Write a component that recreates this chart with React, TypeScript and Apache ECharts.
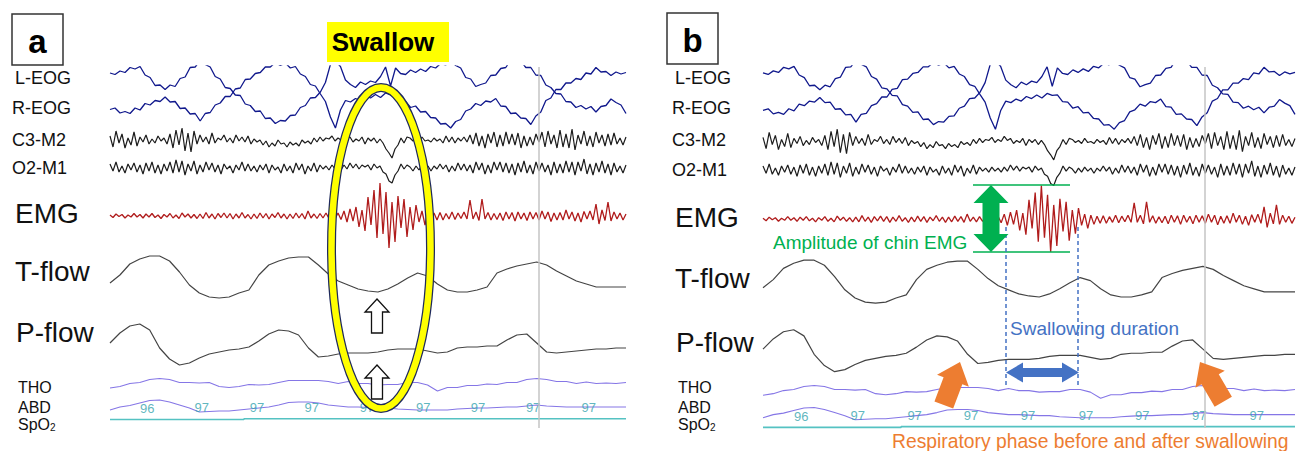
import React, { useEffect, useRef } from "react";
import * as echarts from "echarts";

// ---------- DATA (arbitrary amplitude units, positive = up) ----------
const CHANNEL_LABELS = ["L-EOG", "R-EOG", "C3-M2", "O2-M1", "EMG", "T-flow", "P-flow", "THO", "ABD", "SpO2"];

const L_EOG = [
  22, 20.5, 24, 22.5, 27.5, 26, 28.5, 20, 17.5, 9.5,
  10, 5.5, 10, 8.5, 16.5, 18, 27.5, 28, 34.5, 30.5,
  28, 18.5, 16, 7.5, 6.5, 0, -0.5, -9, -10.5, -16.5,
  -16, -23.5, -23, -28.5, -25.5, -26, -20.5, -20, -12.5, -10.5,
  -3, -2.5, 3, 12.5, 30.5, 34, 28.5, 15, 10.5, 7.5,
  13, 10.5, 14, 12.5, 18.5, 28, 9, 27, 21.5, 20.5,
  25, 22.5, 26, 23.5, 28.5, 27, 31.5, 30, 34.5, 29.5,
  27, 17.5, 16, 8.5, 10.5, 12, 19.5, 20, 26.5, 27.5,
  35, 33.5, 34, 27.5, 27.5, 20, 19.5, 10, 7.5, 1.5,
  1, -6.5, -7, -12.5, -10.5, -14, -11.5, -17, -11.5, -10.5,
  -4, -7.5, -10, -18.5,
];

const R_EOG = [
  -14.5, -13, -18, -16.5, -18.5, -13, -15, -8.5, -10, -5.5,
  -6.5, -2, -7, -6.5, -13.5, -13, -19, -18.5, -26, -18.5,
  -17.5, -10, -8, -1.5, -1.5, 6, 7, 15.5, 16, 21.5,
  22.5, 28, 28, 32.5, 29.5, 32, 27, 28.5, 21, 18.5,
  10.5, 9, 1, -6.5, -22, -33, -15, -5.5, -7, -3.5,
  -5.5, -1, -3, 0.5, -2.5, 2, 0, 0.5, -6, -6.5,
  -12.5, -11, -17, -16.5, -22.5, -23, -29, -28.5, -33, -26.5,
  -24.5, -16, -14, -8.5, -10.5, -6, -7, -3.5, -11, -11.5,
  -18.5, -18, -23, -23.5, -29.5, -21, -17, -5.5, -3, 5.5,
  5.5, 12, 12, 16.5, 15.5, 22, 21, 27.5, 23, 23.5,
  19.5, 23, 21, 22.5,
];

const C3_M2 = [
  4, -7, 9, -3, 6, -8, 2, -5, 8, -6,
  3, -2, 5, -4, 1, -3, 4, -1, 2, -4,
  6, -8, 10, -5, 12, -11, 7, -12, 9, -4,
  5, -2, 3, -4, 7, -3, 2, 0, 5, -2,
  2, -3, 5, -1, 3, -2, 4, -4, 1, -2,
  0, -5, -1, -7, -3, -6, 0, -4, -3, -7,
  -2, -5, -3, -6, 0, -3, -1, -4, 2, -2,
  3, -1, 2, 1, 4, -1, 2, 0, 5, 1,
  3, -2, 1, -1, 3, -4, 2, -1, 2, -3,
  1, -3, -9, -13, -18, -9, -5, 2, -3, 3,
  2, -1, 1, -2, 3, -1, 0, -2, 2, -1,
  1, -3, 4, -2, 3, -3, 2, -1, 3, -2,
  5, -4, 7, -6, 4, -8, 6, -3, 8, -7,
  5, -6, 8, -4, 6, -5, 7, -8, 4, -6,
  3, -5, 6, -2, 8, -7, 9, -4, 5, -8,
  10, -7, 6, -8, 11, -10, 5, -4, 9, -6,
  4, -7, 8, -3, 5, -6, 6, -5, 7, -4,
  2, -5, 3,
];

const O2_M1 = [
  4, -3, 6, -4, 2, -5, 4, -2, 5, -4,
  3, -6, 5, -3, 6, -5, 3, -6, 4, -3,
  6, -5, 8, -4, 7, -7, 4, -3, 7, -6,
  3, -4, 6, -2, 5, -4, 3, -6, 4, -1,
  2, -5, 3, -2, 6, -3, 4, -3, 2, -4,
  3, -2, 4, -5, 3, -2, 1, -5, 4, -3,
  2, -5, 5, -2, 4, -6, 2, -3, 5, -4,
  3, -1, 2, -2, 3, -1, 2, -2, 3, -1,
  5, 0, 4, -1, 3, 1, 3, -2, 4, 0,
  2, -4, -6, -13, -15, -7, -3, 4, -1, 3,
  1, -3, 2, -2, 3, -1, 2, -3, 2, -1,
  4, -1, 3, -4, 2, -3, 5, -2, 4, -3,
  3, -5, 6, -2, 5, -6, 3, -5, 6, -2,
  6, -4, 5, -5, 4, -7, 5, -4, 7, -5,
  3, -6, 6, -3, 5, -4, 3, -7, 6, -5,
  4, -5, 7, -4, 6, -7, 6, -3, 9, -6,
  4, -7, 5, -4, 7, -5, 4, -7, 5, -4,
  2, -5, 3,
];

const EMG = [
  1, -1.5, 2, -0.5, 1.5, -2, 1, -1, 2.5, -1,
  1.5, -2, 2, -1, 2.5, -1.5, 1, -2.5, 1.5, -1,
  2.5, -2, 1, -2.5, 3, -1, 2, -2, 1.5, -2.5,
  2, -2.5, 3.5, -2, 2, -3, 2.5, -1.5, 3, -2,
  2.5, -3, 2, -2, 3.5, -2, 1.5, -3, 2, -2.5,
  3, -2, 2.5, -3, 2, -1.5, 3.5, -2, 2, -3,
  2, -2.5, 3, -2, 2.5, -3, 5, -2, 2, -2.5,
  2.5, -2, 3, -2.5, 2, -3, 3, -3.5, 5, -6,
  7, -5, 9, -11, 6, -15, 19, -9, 26, -22,
  33, -18, 24, -32, 14, -26, 20, -12, 17, -21,
  9, -14, 11, -6, 5, -9, 4, -5, 3, -4,
  3.5, -4, 2.5, -3, 4, -3.5, 3, -2.5, 4, -3,
  16, -3, 4, -4.5, 17, -3, 3.5, -4, 2.5, -3.5,
  3, -4.5, 4, -3, 3.5, -5, 4, -3, 3, -4.5,
  4, -3, 3.5, -4, 5, -3, 4, -5.5, 3, -4,
  3.5, -4, 6, -3, 4, -5, 3, -6, 4.5, -3,
  5, -4, 12, -8, 6, -4.5, 14, -5, 4, -3,
  3, -4, 2,
];

const T_FLOW = [
  17, 25, 36, 41, 44, 44, 39, 28, 15, 7,
  3, 2, 3, 7, 10, 25, 35, 39, 42, 43,
  43, 35, 26, 19, 15, 11, 9, 8, 11, 16,
  22, 27, 24, 16, 10, 8, 8, 10, 13, 27,
  31, 34, 36, 38, 35, 29, 24, 19, 16, 13,
  13, 13, 13,
];

const P_FLOW = [
  27, 37, 44, 46, 40, 22, 11, 5, 7, 12,
  16, 18, 20, 21, 23, 29, 36, 40, 39, 35,
  22, 13, 14, 16, 17, 17, 17, 18, 20, 21,
  21, 21, 19, 17, 18, 22, 23, 23, 24, 24,
  30, 35, 36, 27, 18, 17, 18, 19, 20, 21,
  21, 22, 22,
];

const THO = [
  7, 8.5, 11.5, 12.5, 15.5, 16.5, 15.5, 12.5, 12.5, 12,
  12.5, 8.5, 7.5, 8.5, 10.5, 10, 10.5, 12.5, 14.5, 14.5,
  14.5, 14.5, 13.5, 11.5, 13.5, 11.5, 11.5, 10, 10.5, 10.5,
  12.5, 12.5, 10, 4, 7.5, 7.5, 9.5, 9.5, 11, 10.5,
  12.5, 12.5, 15.5, 16.5, 15.5, 13.5, 13.5, 11.5, 13, 11.5,
  12, 11.5, 12.5,
];

const ABD = [
  5, 8, 9.5, 12, 14.5, 15, 13, 10, 7, 3,
  3.5, 4, 4, 5, 6, 7, 8, 10, 12.5, 13,
  13, 12, 10, 9, 8, 8, 7.5, 7, 7, 6,
  5.5, 5, 5, 5, 5, 6, 6.5, 7, 7, 7.5,
  8, 8, 9, 10, 9, 8.5, 8, 8, 8, 8,
  8, 8, 8,
];

const SPO2_TRACE = [
  96, 96, 96, 96, 96, 96, 96, 96, 96, 96,
  96, 96, 96, 96, 97, 97, 97, 97, 97, 97,
  97, 97, 97, 97, 97, 97, 97, 97, 97, 97,
  97, 97, 97, 97, 97, 97, 97, 97, 97, 97,
  97, 97, 97, 97, 97, 97, 97, 97, 97, 97,
  97, 97, 97,
];

// SpO2 readings printed along the trace (time in 0..1000 of the epoch)
const SPO2_READ_TIMES = [72, 178, 285, 391, 498, 607, 713, 820, 928];
const SPO2_READINGS = [96, 97, 97, 97, 97, 97, 97, 97, 97];
const MARKER_TIME = 831;
const TIME_MAX = 1000;

// ---------- LAYOUT ----------
const FONT = "'Liberation Sans', Arial, Helvetica, sans-serif";
const PANELS = [
  { left: 110, right: 626, sy: 1.0, labelDx: 0, labelY: [78, 108, 140, 168, 213, 271, 332, 387, 407, 424] },
  { left: 763, right: 1295, sy: 1.023, labelDx: 660, labelY: [78, 108, 140, 170, 217, 278, 342, 387, 407, 424] },
];
const LABEL_LAYOUT = [
  { x: 15, size: 18 }, { x: 12, size: 18 }, { x: 12, size: 18 }, { x: 12, size: 18 },
  { x: 15, size: 28 }, { x: 15, size: 28 }, { x: 16, size: 28 },
  { x: 18, size: 16 }, { x: 18, size: 16 }, { x: 18, size: 16 },
];

const BANDS = [
  { key: "eog", data: [L_EOG, R_EOG], color: "#10188c", width: 1.3, top: 66, bottom: 135, min: -40, max: 29 },
  { key: "c3", data: [C3_M2], color: "#1c1c1c", width: 1.2, top: 120, bottom: 160, min: -20, max: 20 },
  { key: "o2", data: [O2_M1], color: "#1c1c1c", width: 1.2, top: 150, bottom: 186, min: -18, max: 18 },
  { key: "emg", data: [EMG], color: "#b01c1c", width: 1.3, top: 180, bottom: 252, min: -36, max: 36 },
  { key: "tflow", data: [T_FLOW], color: "#444444", width: 1.2, top: 250, bottom: 300, min: 0, max: 50 },
  { key: "pflow", data: [P_FLOW], color: "#444444", width: 1.2, top: 320, bottom: 370, min: 0, max: 50 },
  { key: "tho", data: [THO], color: "#8576e6", width: 1.1, top: 375, bottom: 395, min: 0, max: 20 },
  { key: "abd", data: [ABD], color: "#8576e6", width: 1.1, top: 395, bottom: 415, min: 0, max: 20 },
  { key: "spo2", data: [SPO2_TRACE], color: "#55c2c2", width: 1.6, top: 416.3, bottom: 420.3, min: 95, max: 100, step: "middle" },
];

const ty = (p: any, y: number) => 75 + (y - 75) * p.sy;
const toXY = (arr: number[]) => arr.map((v, i) => [(i * TIME_MAX) / (arr.length - 1), v]);

function buildOption() {
  const grid: any[] = [];
  const xAxis: any[] = [];
  const yAxis: any[] = [];
  const series: any[] = [];
  const graphic: any[] = [];

  PANELS.forEach((p) => {
    // overlay grid for the vertical time marker
    const og = grid.length;
    grid.push({ left: p.left, width: p.right - p.left, top: 67, height: 361, show: false });
    xAxis.push({ type: "value", gridIndex: og, min: 0, max: TIME_MAX, show: false });
    yAxis.push({ type: "value", gridIndex: og, min: 0, max: 1, show: false });
    series.push({
      type: "line", xAxisIndex: og, yAxisIndex: og, data: [], silent: true, z: 1,
      markLine: {
        silent: true, symbol: "none", animation: false,
        label: { show: false },
        lineStyle: { color: "#c4c4c4", width: 1.5, type: "solid" },
        data: [{ xAxis: MARKER_TIME }],
      },
    });

    BANDS.forEach((b) => {
      const gi = grid.length;
      grid.push({ left: p.left, width: p.right - p.left, top: ty(p, b.top), height: (b.bottom - b.top) * p.sy, show: false });
      xAxis.push({ type: "value", gridIndex: gi, min: 0, max: TIME_MAX, show: false });
      yAxis.push({ type: "value", gridIndex: gi, min: b.min, max: b.max, show: false });
      b.data.forEach((arr) => {
        series.push({
          type: "line", xAxisIndex: gi, yAxisIndex: gi, data: toXY(arr), symbol: "none",
          showSymbol: false, silent: true, z: 3, step: (b as any).step || false,
          lineStyle: { color: b.color, width: b.width },
        });
      });
      if (b.key === "spo2") {
        series.push({
          type: "scatter", xAxisIndex: gi, yAxisIndex: gi, clip: false, silent: true, z: 4,
          symbolSize: 1, itemStyle: { color: "rgba(0,0,0,0)" },
          data: SPO2_READ_TIMES.map((t, i) => [t, SPO2_READINGS[i]]),
          label: {
            show: true, position: "top", distance: 4, color: "#35a4ae", fontSize: 13, fontFamily: FONT,
            formatter: (q: any) => String(q.value[1]),
          },
        });
      }
    });

    // channel labels
    CHANNEL_LABELS.forEach((name, i) => {
      const L = LABEL_LAYOUT[i];
      const x = L.x + p.labelDx;
      const y = p.labelY[i];
      if (name === "SpO2") {
        graphic.push({
          type: "text", x, y, z: 10,
          style: {
            text: "{a|SpO}{s|2}", verticalAlign: "middle", align: "left",
            rich: {
              a: { fontSize: L.size, fontFamily: FONT, fill: "#111" },
              s: { fontSize: 10, fontFamily: FONT, fill: "#111", padding: [7, 0, 0, 0] },
            },
          },
        });
      } else {
        graphic.push({
          type: "text", x, y, z: 10,
          style: { text: name, fontSize: L.size, fontFamily: FONT, fill: "#111", verticalAlign: "middle", align: "left" },
        });
      }
    });
  });

  // panel letters
  [["a", 12, 14], ["b", 667, 13]].forEach(([t, x, y]: any) => {
    graphic.push({ type: "rect", z: 10, shape: { x, y, width: 51, height: 51 }, style: { fill: "#fff", stroke: "#333", lineWidth: 1.5 } });
    graphic.push({ type: "text", z: 11, x: x + 25.5, y: y + 27, style: { text: t, fontSize: 33, fontWeight: "bold", fontFamily: FONT, fill: "#000", align: "center", verticalAlign: "middle" } });
  });

  // Swallow label
  graphic.push({ type: "rect", z: 10, shape: { x: 327, y: 22, width: 122, height: 40 }, style: { fill: "#ffff00" } });
  graphic.push({ type: "text", z: 11, x: 383, y: 42, style: { text: "Swallow", fontSize: 26, fontWeight: "bold", fontFamily: FONT, fill: "#000", align: "center", verticalAlign: "middle" } });

  // yellow ellipse
  graphic.push({ type: "ellipse", z: 20, shape: { cx: 381, cy: 248, rx: 49.5, ry: 160.5 }, style: { fill: "transparent", stroke: "#1f2a5c", lineWidth: 9 } });
  graphic.push({ type: "ellipse", z: 21, shape: { cx: 381, cy: 248, rx: 49.5, ry: 160.5 }, style: { fill: "transparent", stroke: "#ffff00", lineWidth: 6.5 } });

  const upArrow = (len: number, headLen: number, headHalf: number, shaftHalf: number) => [
    [0, 0], [headHalf, headLen], [shaftHalf, headLen], [shaftHalf, len],
    [-shaftHalf, len], [-shaftHalf, headLen], [-headHalf, headLen],
  ];
  // white arrows
  [[377, 299], [377, 365]].forEach(([x, y]) => {
    graphic.push({ type: "polygon", z: 22, x, y, shape: { points: upArrow(34, 13, 12, 5.5) }, style: { fill: "#fff", stroke: "#111", lineWidth: 1.3 } });
  });

  // ---- panel b annotations ----
  const GREEN = "#00b050";
  const BLUE = "#4472c4";
  const ORANGE = "#ed7d31";
  graphic.push({ type: "line", z: 20, shape: { x1: 973, y1: 185, x2: 1070, y2: 185 }, style: { stroke: GREEN, lineWidth: 1.5 } });
  graphic.push({ type: "line", z: 20, shape: { x1: 973, y1: 252, x2: 1070, y2: 252 }, style: { stroke: GREEN, lineWidth: 1.5 } });
  {
    const x = 991, y1 = 185, y2 = 252, hw = 17.5, hl = 18, sw = 8.5;
    graphic.push({
      type: "polygon", z: 21,
      shape: { points: [[x, y1], [x + hw, y1 + hl], [x + sw, y1 + hl], [x + sw, y2 - hl], [x + hw, y2 - hl], [x, y2], [x - hw, y2 - hl], [x - sw, y2 - hl], [x - sw, y1 + hl], [x - hw, y1 + hl]] },
      style: { fill: GREEN },
    });
  }
  graphic.push({ type: "text", z: 21, x: 773, y: 242, style: { text: "Amplitude of chin EMG", fontSize: 19, fontFamily: FONT, fill: GREEN, verticalAlign: "middle" } });

  [1006, 1078].forEach((x) => {
    graphic.push({ type: "line", z: 20, shape: { x1: x, y1: 227, x2: x, y2: 386 }, style: { stroke: BLUE, lineWidth: 1.5, lineDash: [4, 3] } });
  });
  graphic.push({ type: "text", z: 21, x: 1010, y: 328, style: { text: "Swallowing duration", fontSize: 19, fontFamily: FONT, fill: BLUE, verticalAlign: "middle" } });
  {
    const x1 = 1006, x2 = 1079, y = 372.5, hl = 17, hh = 10, sh = 4.5;
    graphic.push({
      type: "polygon", z: 21,
      shape: { points: [[x1, y], [x1 + hl, y - hh], [x1 + hl, y - sh], [x2 - hl, y - sh], [x2 - hl, y - hh], [x2, y], [x2 - hl, y + hh], [x2 - hl, y + sh], [x1 + hl, y + sh], [x1 + hl, y + hh]] },
      style: { fill: BLUE },
    });
  }
  [[960, 362, -0.36], [1200, 362, 0.53]].forEach(([x, y, r]) => {
    graphic.push({ type: "polygon", z: 21, x, y, rotation: r, shape: { points: upArrow(46, 20, 17, 10) }, style: { fill: ORANGE } });
  });
  graphic.push({ type: "text", z: 21, x: 892, y: 441, style: { text: "Respiratory phase before and after swallowing", fontSize: 19.3, fontFamily: FONT, fill: ORANGE, verticalAlign: "middle" } });

  return { animation: false, backgroundColor: "#ffffff", grid, xAxis, yAxis, series, graphic };
}

export default function App() {
  const ref = useRef<HTMLDivElement>(null);
  useEffect(() => {
    if (!ref.current) return;
    const chart = echarts.init(ref.current, undefined, { renderer: "svg" });
    chart.setOption(buildOption() as any);
    return () => chart.dispose();
  }, []);
  return <div ref={ref} style={{ position: "absolute", left: 0, top: 0, width: 1301, height: 451, background: "#fff" }} />;
}
